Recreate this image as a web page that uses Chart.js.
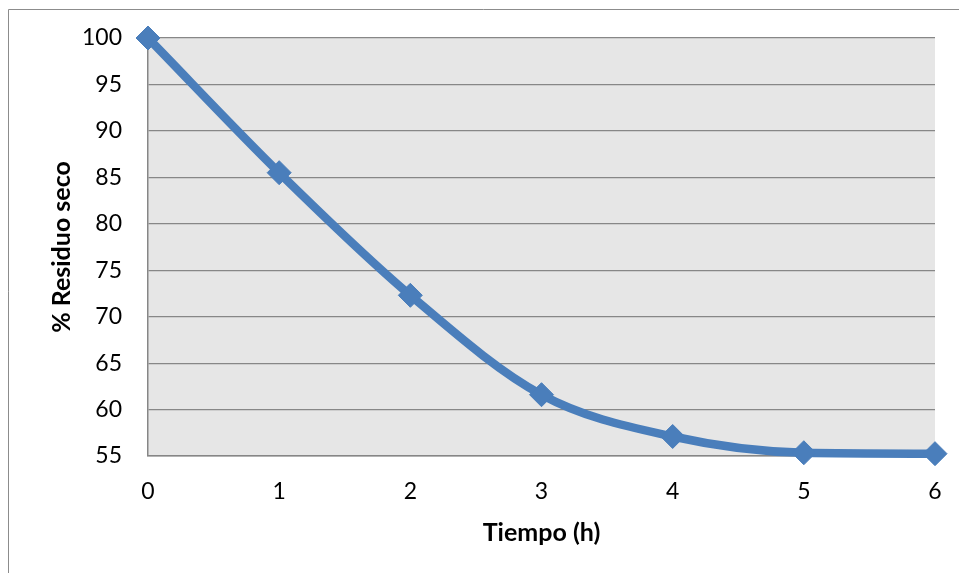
<!DOCTYPE html>
<html>
<head>
<meta charset="utf-8">
<script src="https://cdn.jsdelivr.net/npm/chart.js@4.4.1/dist/chart.umd.min.js"></script>
<style>
  html, body { margin: 0; padding: 0; background: #fff; }
  #wrap { width: 959px; height: 573px; }
</style>
</head>
<body>
<div id="wrap"><canvas id="residuoChart" width="959" height="573"></canvas></div>
<script>
// drying curve: hours vs % dry residue
const hours = ['0', '1', '2', '3', '4', '5', '6'];
const residue = [100, 85.5, 72.3, 61.6, 57.1, 55.35, 55.25];
const yTicks = [55, 60, 65, 70, 75, 80, 85, 90, 95, 100];

const FONT = 'Lato, "Open Sans", sans-serif';

// gray plot background plus the thin outer frame
const plotBackground = {
  id: 'plotBackground',
  beforeDraw(chart) {
    const { ctx, chartArea: a } = chart;
    ctx.save();
    ctx.fillStyle = '#ffffff';
    ctx.fillRect(0, 0, chart.width, chart.height);
    ctx.fillStyle = '#e6e6e6';
    ctx.fillRect(a.left, a.top, a.right - a.left, a.bottom - a.top);
    ctx.strokeStyle = '#8c8c8c';
    ctx.lineWidth = 1;
    ctx.beginPath();
    ctx.moveTo(8.5, chart.height);
    ctx.lineTo(8.5, 9.5);
    ctx.lineTo(chart.width, 9.5);
    ctx.stroke();
    ctx.restore();
  }
};

const ctx = document.getElementById('residuoChart').getContext('2d');
const residuoChart = new Chart(ctx, {
  type: 'line',
  data: {
    labels: hours,
    datasets: [{
      data: residue,
      borderColor: '#4a7ebb',
      backgroundColor: '#4a7ebb',
      borderWidth: 8.5,
      cubicInterpolationMode: 'monotone',
      pointStyle: 'rectRot',
      pointRadius: 12,
      pointBorderWidth: 1,
      pointBorderColor: '#4a7ebb',
      pointBackgroundColor: '#4a7ebb',
      clip: false
    }]
  },
  options: {
    responsive: false,
    animation: false,
    layout: { padding: { top: 38, right: 24, bottom: 0, left: 0 } },
    plugins: {
      legend: { display: false },
      tooltip: { enabled: false }
    },
    scales: {
      x: {
        offset: false,
        // invisible tick length keeps the labels below the axis without side padding
        grid: { display: false, drawTicks: true, tickLength: 22 },
        border: { display: true, color: '#868686', width: 1.5 },
        ticks: { color: '#000', padding: 0, maxRotation: 0, font: { family: FONT, size: 23 } },
        title: {
          display: true,
          text: 'Tiempo (h)',
          color: '#000',
          padding: { top: 0, bottom: 25 },
          font: { family: FONT, size: 25, weight: 'bold' }
        },
        afterFit(scale) { scale.height = 117; }
      },
      y: {
        min: 55,
        max: 100,
        afterBuildTicks(scale) { scale.ticks = yTicks.map(v => ({ value: v })); },
        grid: { color: '#878787', lineWidth: 1.2, drawTicks: true, tickLength: 26, tickColor: 'rgba(0,0,0,0)' },
        border: { display: true, color: '#868686', width: 1.5 },
        ticks: { color: '#000', padding: 0, font: { family: FONT, size: 23 } },
        title: {
          display: true,
          text: '% Residuo seco',
          color: '#000',
          padding: { top: 47, bottom: 0 },
          font: { family: FONT, size: 25, weight: 'bold' }
        },
        afterFit(scale) { scale.width = 148; }
      }
    }
  },
  plugins: [plotBackground]
});
</script>
</body>
</html>
